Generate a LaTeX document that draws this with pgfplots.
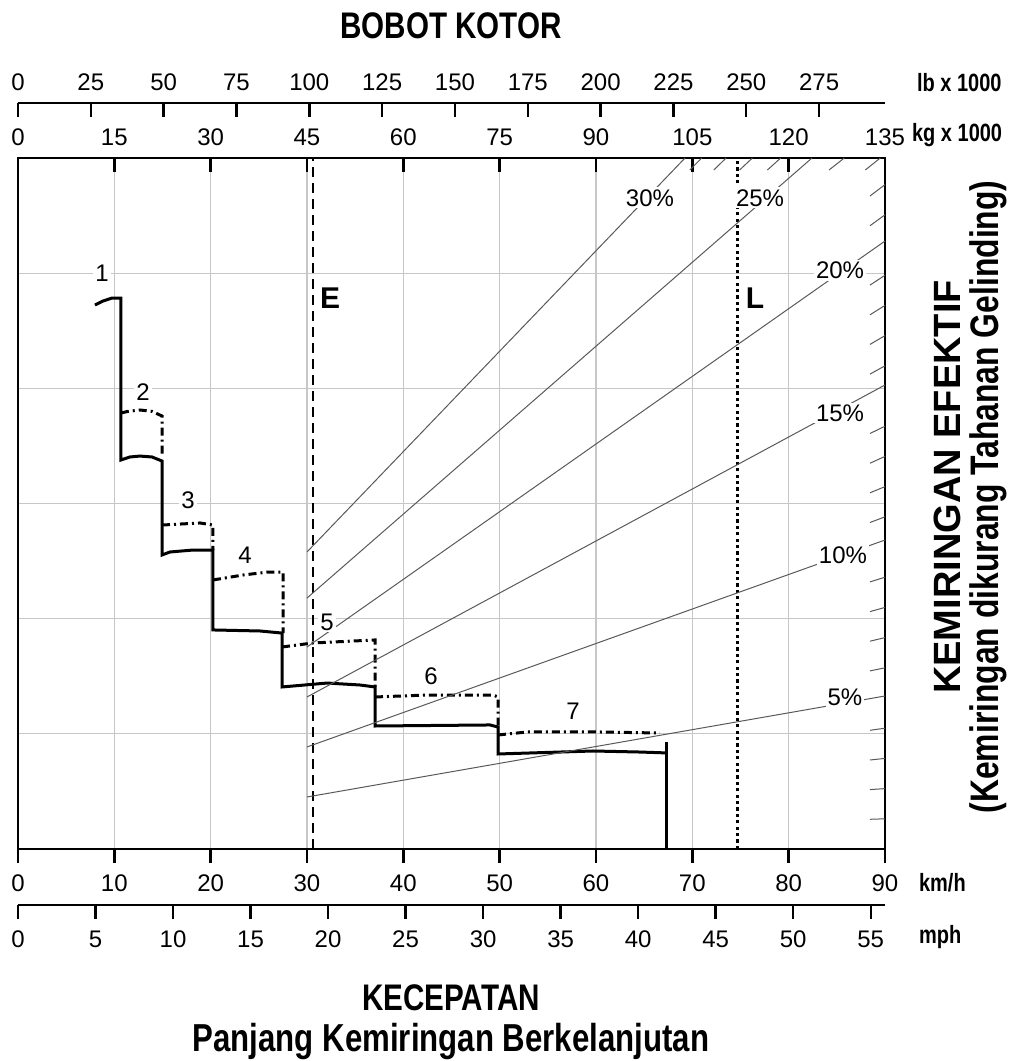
\documentclass[border=0pt]{standalone}
\usepackage{fontspec}
\setmainfont{Liberation Sans}
\newfontfamily\cond[FakeStretch=0.8]{Liberation Sans Bold}
\newfontfamily\wide{Liberation Sans Bold}
\usepackage{pgfplots}
\pgfplotsset{compat=1.18}

\pgfplotsset{
  base/.style={
    scale only axis, width=433.5pt,
    xmin=0, ymin=0, ymax=6,
    tick label style={font=\fontsize{12}{14}\selectfont},
    /pgf/number format/assume math mode=true,
    major tick length=7pt,
    every tick/.style={black, line width=1.2pt},
    axis line style={line width=1.3pt},
  },
  noarrow/.style={
    axis line style={-},
    x axis line style={-},
    every outer x axis line/.append style={-},
    every inner x axis line/.append style={-},
  },
}
\tikzset{
  grade/.style={black!65, line width=0.5pt},
  gear/.style={black, line width=1.5pt},
  upper/.style={black, line width=1.5pt, dash pattern=on 4pt off 2pt on 1pt off 2pt},
  pct/.style={fill=white, inner sep=1pt, font=\fontsize{12}{14}\selectfont},
}

\begin{document}
\begin{tikzpicture}
\useasboundingbox (0,0) rectangle (509pt,530.5pt);

% speed axis (km/h) with the gear curves
\begin{axis}[base, height=345.5pt, at={(9pt,106pt)}, anchor=south west,
  xmax=90,
  xtick={0,10,...,90}, xtick pos=bottom, xtick align=outside,
  xticklabel shift=2.5pt,
  ytick={1,...,5}, yticklabels={}, ytick style={draw=none},
  grid=major, major grid style={black!22, line width=0.6pt},
  clip=false]
\addplot[gear] coordinates {
 (7.99,4.724) (8.82,4.758) (9.76,4.784) (10.69,4.784) (10.69,3.378)
 (11.63,3.404) (12.66,3.412) (13.91,3.404) (14.95,3.369) (14.95,2.553)
 (15.78,2.579) (18.17,2.596) (20.24,2.596) (20.24,1.902)
 (25.12,1.893) (27.41,1.875) (27.41,1.407)
 (32.08,1.441) (35.50,1.424) (37.06,1.407) (37.06,1.068)
 (49.00,1.077) (49.83,1.059) (49.83,0.825)
 (59.69,0.851) (64.57,0.842) (67.37,0.834)};
\addplot[gear] coordinates {(67.37,0.93) (67.37,0)};
\addplot[upper] coordinates {(10.69,3.786) (11.42,3.80) (12.66,3.812) (13.91,3.80) (14.74,3.768) (14.95,3.76) (14.95,3.40)};
\addplot[upper] coordinates {(14.95,2.813) (18.89,2.831) (20.24,2.813) (20.24,2.596)};
\addplot[upper] coordinates {(20.24,2.336) (23.36,2.379) (25.95,2.405) (27.51,2.405) (27.51,1.875)};
\addplot[upper] coordinates {(27.41,1.754) (30.62,1.789) (37.06,1.815) (37.06,1.407)};
\addplot[upper] coordinates {(37.06,1.320) (42.46,1.337) (49.31,1.337) (49.83,1.320) (49.83,1.068)};
\addplot[upper] coordinates {(49.83,0.990) (52.84,1.016) (60.42,1.016) (66.64,1.007)};
% E and L weight lines
\addplot[black, line width=1.2pt, dash pattern=on 5pt off 3pt] coordinates {(30.62,0) (30.62,6)};
\addplot[black, line width=1.5pt, dash pattern=on 1.6pt off 1.6pt] coordinates {(74.64,0) (74.64,6)};
\node[font=\bfseries\fontsize{15}{17}\selectfont] at (axis cs:32.4,4.784) {E};
\node[font=\bfseries\fontsize{15}{17}\selectfont] at (axis cs:76.5,4.784) {L};
\end{axis}

% weight axis (kg x 1000) with the grade lines
\begin{axis}[base, height=345.5pt, at={(9pt,106pt)}, anchor=south west,
  xmax=135, axis x line=top, axis y line=none, noarrow,
  xtick={0,15,...,135}, xtick align=inside, ytick=\empty,
  xticklabel shift=2.5pt,
  clip=false]
\addplot[grade] coordinates {(45,0.4515) (135,1.3285)};
\addplot[grade] coordinates {(45,0.8857) (135,2.683)};
\addplot[grade] coordinates {(45,1.320) (135,4.029)};
\addplot[grade] coordinates {(45,1.754) (135,5.279)};
\addplot[grade] coordinates {(45,2.179) (123.63,6)};
\addplot[grade] coordinates {(45,2.579) (103.86,6)};
% 1 % marks along the top
\addplot[grade] coordinates {(131.93,5.896) (134.27,6)};
\addplot[grade] coordinates {(126.29,5.896) (128.66,6)};
\addplot[grade] coordinates {(116.69,5.896) (118.76,6)};
\addplot[grade] coordinates {(112.36,5.896) (114.35,6)};
\addplot[grade] coordinates {(108.34,5.896) (110.26,6)};
\addplot[grade] coordinates {(104.61,5.896) (106.46,6)};
% 1 % marks along the right side
\addplot[grade] coordinates {(132.66,0.2579) (135,0.2622)};
\addplot[grade] coordinates {(132.66,0.5158) (135,0.5244)};
\addplot[grade] coordinates {(132.66,0.7728) (135,0.7867)};
\addplot[grade] coordinates {(132.66,1.0307) (135,1.0489)};
\addplot[grade] coordinates {(132.66,1.5464) (135,1.5733)};
\addplot[grade] coordinates {(132.66,1.8043) (135,1.8356)};
\addplot[grade] coordinates {(132.66,2.0613) (135,2.0978)};
\addplot[grade] coordinates {(132.66,2.3192) (135,2.3600)};
\addplot[grade] coordinates {(132.66,2.8349) (135,2.8845)};
\addplot[grade] coordinates {(132.66,3.0928) (135,3.1467)};
\addplot[grade] coordinates {(132.66,3.3498) (135,3.4089)};
\addplot[grade] coordinates {(132.66,3.6077) (135,3.6711)};
\addplot[grade] coordinates {(132.66,4.1235) (135,4.1955)};
\addplot[grade] coordinates {(132.66,4.3813) (135,4.4578)};
\addplot[grade] coordinates {(132.66,4.6384) (135,4.7200)};
\addplot[grade] coordinates {(132.66,4.8962) (135,4.9822)};
\addplot[grade] coordinates {(132.66,5.4120) (135,5.5067)};
\addplot[grade] coordinates {(132.66,5.6699) (135,5.7689)};
\node[pct] at (axis cs:98.41,5.653) {30\%};
\node[pct] at (axis cs:115.54,5.653) {25\%};
\node[pct] at (axis cs:128.0,5.027) {20\%};
\node[pct] at (axis cs:128.0,3.786) {15\%};
\node[pct] at (axis cs:128.46,2.553) {10\%};
\node[pct] at (axis cs:128.77,1.320) {5\%};
% gear numbers
\node[pct] at (axis cs:13.08,5.0) {1};
\node[pct] at (axis cs:19.47,3.968) {2};
\node[pct] at (axis cs:26.48,3.03) {3};
\node[pct] at (axis cs:35.34,2.553) {4};
\node[pct] at (axis cs:48.12,1.971) {5};
\node[pct] at (axis cs:64.31,1.502) {6};
\node[pct] at (axis cs:86.42,1.198) {7};
\end{axis}

% weight axis (lb x 1000)
\begin{axis}[base, height=20pt, at={(9pt,479pt)}, anchor=north west,
  xmax=297.62, ymax=1, axis x line=top, axis y line=none, noarrow,
  xtick={0,25,...,275}, xtick align=inside, ytick=\empty,
  xticklabel shift=2.5pt]
\end{axis}

% speed axis (mph)
\begin{axis}[base, height=20pt, at={(9pt,78pt)}, anchor=south west,
  xmax=55.923, ymax=1, axis x line=bottom, axis y line=none, noarrow,
  xtick={0,5,...,55}, xtick align=outside, ytick=\empty,
  xticklabel shift=2.5pt]
\end{axis}

\node[anchor=west, font=\cond\fontsize{12.5}{14}\selectfont] at (455pt,489pt) {lb x 1000};
\node[anchor=west, font=\cond\fontsize{12.5}{14}\selectfont] at (452.5pt,463pt) {kg x 1000};
\node[anchor=west, font=\cond\fontsize{12.5}{14}\selectfont] at (456pt,89pt) {km/h};
\node[anchor=west, font=\cond\fontsize{12.5}{14}\selectfont] at (456pt,62pt) {mph};

\node[font=\cond\fontsize{18.5}{20}\selectfont] at (225.5pt,517.5pt) {BOBOT KOTOR};
\node[font=\cond\fontsize{18.5}{20}\selectfont] at (225.5pt,31.5pt) {KECEPATAN};
\node[anchor=base, inner sep=0pt, font=\cond\fontsize{19.5}{21}\selectfont] at (225.5pt,4.6pt) {Panjang Kemiringan Berkelanjutan};
\node[rotate=90, font=\wide\fontsize{19}{21}\selectfont] at (473.5pt,287pt) {KEMIRINGAN EFEKTIF};
\node[rotate=90, font=\cond\fontsize{19.9}{22}\selectfont] at (494pt,282pt) {(Kemiringan dikurang Tahanan Gelinding)};
\end{tikzpicture}
\end{document}
